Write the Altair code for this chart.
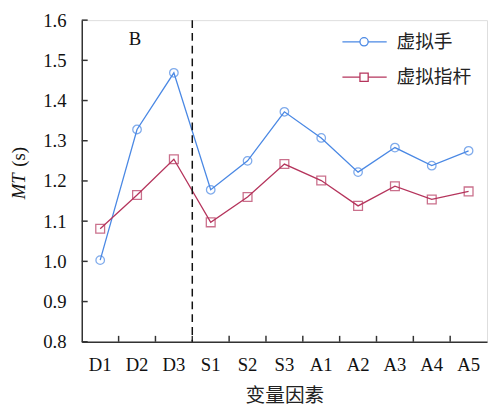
import altair as alt
import pandas as pd

categories = ["D1", "D2", "D3", "S1", "S2", "S3", "A1", "A2", "A3", "A4", "A5"]
hand = [1.003, 1.328, 1.469, 1.178, 1.250, 1.372, 1.307, 1.222, 1.283, 1.238, 1.275]
stick = [1.081, 1.165, 1.254, 1.097, 1.160, 1.242, 1.201, 1.138, 1.187, 1.154, 1.174]
series_names = ["虚拟手", "虚拟指杆"]
y_ticks = [0.8, 0.9, 1.0, 1.1, 1.2, 1.3, 1.4, 1.5, 1.6]
colors = ["#4a88e4", "#b5345c"]

W, H = 412, 327
SERIF = "Liberation Serif"
CJK = "Noto Sans CJK SC"

df = pd.DataFrame({
    "cat": categories * 2,
    "val": hand + stick,
    "series": [series_names[0]] * len(categories) + [series_names[1]] * len(categories),
})
ticks_x = pd.DataFrame({"cat": categories[1:]})
ticks_y = pd.DataFrame({"val": y_ticks})
divider = pd.DataFrame({"cat": ["S1"]})

xscale = alt.Scale(type="band", domain=categories, paddingInner=0, paddingOuter=0)
yscale = alt.Scale(domain=[0.8, 1.6], nice=False, zero=False)

xaxis = alt.Axis(title="变量因素", titleFont=CJK, titleFontSize=20, titleFontWeight="normal",
                 titleColor="#222", titlePadding=12,
                 labelFont=SERIF, labelFontSize=19, labelColor="#111", labelPadding=14,
                 tickSize=0, domainColor="#333", domainWidth=1.5, grid=False, labelAngle=0)
yaxis = alt.Axis(title=None, values=y_ticks, format=".1f",
                 labelFont=SERIF, labelFontSize=19, labelColor="#111", labelPadding=16,
                 tickSize=0, domainColor="#333", domainWidth=1.5, grid=False)


def X(**kw):
    return alt.X("cat:N", scale=xscale, axis=xaxis, sort=categories, **kw)


def Y():
    return alt.Y("val:Q", scale=yscale, axis=yaxis)


layers = []
for name, col, shape, size in [(series_names[0], colors[0], "circle", 75),
                               (series_names[1], colors[1], "square", 80)]:
    sub = alt.Chart(df).transform_filter(alt.datum.series == name)
    layers.append(sub.mark_line(color=col, strokeWidth=1.3).encode(x=X(), y=Y()))
    layers.append(sub.mark_point(color=col, shape=shape, size=size, strokeWidth=1.3,
                                 filled=False).encode(x=X(), y=Y()))

# inward ticks
layers.append(alt.Chart(ticks_x).mark_rule(color="#333", strokeWidth=1.5).encode(
    x=X(bandPosition=0), y=alt.value(H), y2=alt.value(H - 6)))
layers.append(alt.Chart(ticks_y).mark_rule(color="#333", strokeWidth=1.5).encode(
    y=Y(), x=alt.value(0), x2=alt.value(6)))

# dashed divider
layers.append(alt.Chart(divider).mark_rule(color="#111", strokeWidth=1.5, strokeDash=[8, 5]).encode(
    x=X(bandPosition=0), y=alt.value(0), y2=alt.value(H)))

# panel label
layers.append(alt.Chart(pd.DataFrame({"t": ["B"]})).mark_text(
    font=SERIF, fontSize=19, color="#111", align="center", baseline="middle").encode(
    text="t:N", x=alt.value(54), y=alt.value(19)))

# y title: italic MT + (s)
layers.append(alt.Chart(pd.DataFrame({"t": ["MT"]})).mark_text(
    font=SERIF, fontSize=19, fontStyle="italic", color="#111", angle=270,
    align="center", baseline="middle").encode(text="t:N", x=alt.value(-64), y=alt.value(169)))
layers.append(alt.Chart(pd.DataFrame({"t": ["(s)"]})).mark_text(
    font=SERIF, fontSize=19, color="#111", angle=270,
    align="center", baseline="middle").encode(text="t:N", x=alt.value(-64), y=alt.value(139)))

# manual legend
for i, (name, col, shape) in enumerate([(series_names[0], colors[0], "circle"),
                                         (series_names[1], colors[1], "square")]):
    ly = 22 + 36 * i
    leg = alt.Chart(pd.DataFrame({"t": [name]}))
    layers.append(leg.mark_rule(color=col, strokeWidth=1.3).encode(
        x=alt.value(265), x2=alt.value(310), y=alt.value(ly)))
    layers.append(leg.mark_point(shape=shape, size=70, strokeWidth=1.3, stroke=col,
                                 filled=True, fill="white", fillOpacity=1,
                                 strokeOpacity=1, opacity=1).encode(
        x=alt.value(287), y=alt.value(ly)))
    layers.append(leg.mark_text(font=CJK, fontSize=19, color="#222", align="left",
                                baseline="middle").encode(
        text="t:N", x=alt.value(320), y=alt.value(ly)))

chart = alt.layer(*layers).properties(
    width=W, height=H,
    autosize=alt.AutoSizeParams(type="none"),
    padding={"left": 75, "top": 9, "right": 1, "bottom": 64},
).configure_view(stroke=None).configure(background="white")

chart.save("out.html", embed_options={"renderer": "svg", "actions": False})
